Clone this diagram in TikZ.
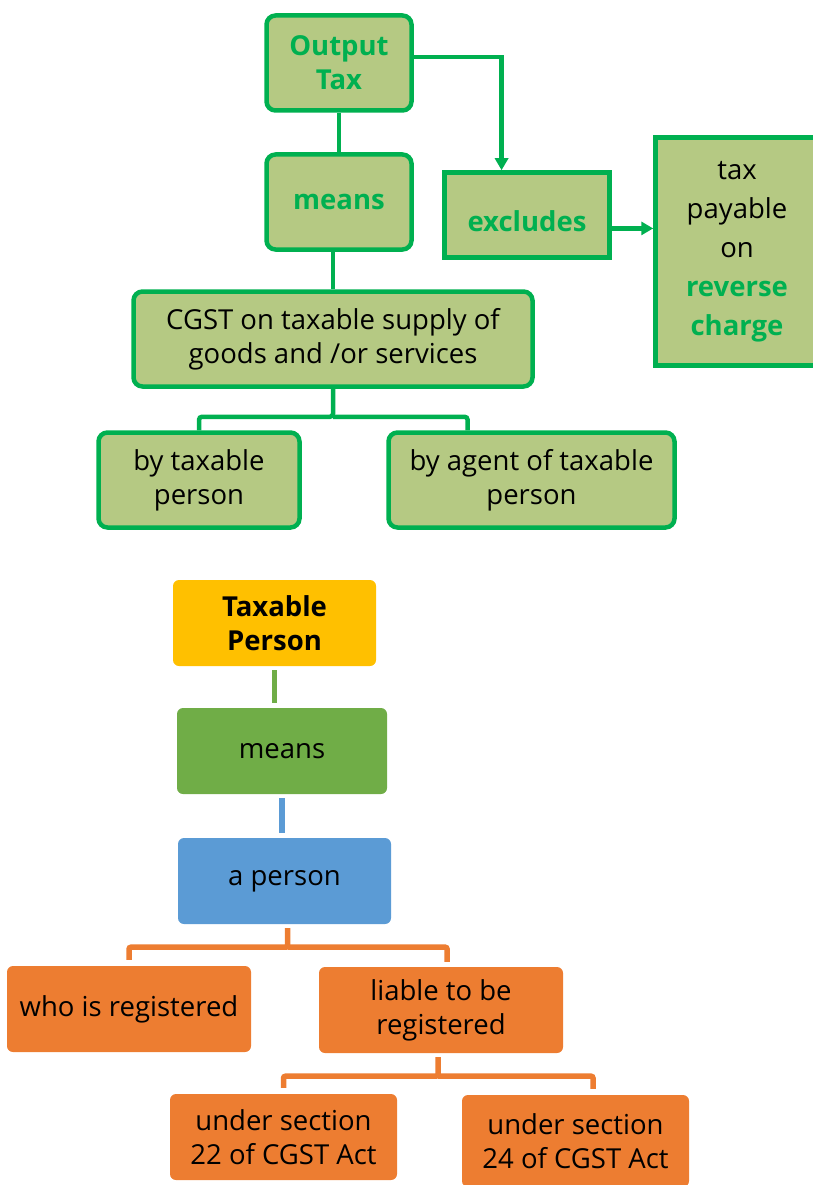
\documentclass[tikz,border=0pt]{standalone}
\usepackage{fontspec}
\setmainfont{Open Sans}
\usetikzlibrary{arrows.meta,calc}

\definecolor{gline}{RGB}{0,176,80}
\definecolor{gfill}{RGB}{181,201,131}
\definecolor{tpyellow}{RGB}{255,192,0}
\definecolor{tpgreen}{RGB}{112,173,71}
\definecolor{tpblue}{RGB}{91,155,213}
\definecolor{tporange}{RGB}{237,125,49}

\newcommand{\boxfont}{\fontsize{27.5}{34}\selectfont}
\newcommand{\hlgreen}[1]{\textbf{\textcolor{gline}{#1}}}

\tikzset{
  gbox/.style={draw=gline,line width=4.5pt,fill=gfill,rounded corners=9pt,
    align=center,inner sep=0pt,font=\boxfont},
  cbox/.style={fill=#1,rounded corners=6pt,align=center,inner sep=0pt,font=\boxfont},
  gconn/.style={draw=gline,line width=4.5pt},
  cconn/.style={draw=#1,line width=5.5pt},
}

\begin{document}
\begin{tikzpicture}[>={Triangle[length=12pt,width=13pt]},x=1pt,y=-1pt]
      \useasboundingbox (0,0) rectangle (813,1185);
      % output tax part
      \node[gbox,minimum width=145pt,minimum height=95pt] (outtax) at (339,63) {\hlgreen{Output}\\\hlgreen{Tax}};
      \node[gbox,minimum width=145pt,minimum height=95pt] (means) at (339,202) {\hlgreen{means}};
      \node[gbox,sharp corners,minimum width=165pt,minimum height=85pt,text height=33pt] (excl) at (527,215) {\hlgreen{excludes}};
      \node[gbox,sharp corners,minimum width=163pt,minimum height=228pt,
        font=\fontsize{27.5}{39}\selectfont] (rcm) at (737,251.5) {tax\\payable\\on\\\hlgreen{reverse}\\\hlgreen{charge}};
      \node[gbox,minimum width=399pt,minimum height=95pt] (cgst) at (333,339) {CGST on taxable supply of\\goods and /or services};
      \node[gbox,minimum width=201pt,minimum height=95pt] (bytp) at (199,480) {by taxable\\person};
      \node[gbox,minimum width=286pt,minimum height=95pt] (byagent) at (531.5,480) {by agent of taxable\\person};
      \coordinate (outtaxr) at ($(outtax.north east)!0.44!(outtax.south east)$);
      \coordinate (exclin) at ($(excl.north west)!0.35!(excl.north east)$);
      \coordinate (exclr) at ($(excl.north east)!0.65!(excl.south east)$);
      \coordinate (cgstfork) at ($(cgst.south)+(0,28)$);
      \coordinate (agentin) at ($(byagent.north west)!0.28!(byagent.north east)$);
      \draw[gconn] (outtax) -- (means);
      \draw[gconn,->] (outtaxr) -| (exclin);
      \draw[gconn,->] (exclr) -- (rcm.west |- exclr);
      \draw[gconn] (means.south -| cgst.north) -- (cgst.north);
      \draw[gconn,rounded corners=3pt] (cgst.south) -- (cgstfork) -| (bytp.north);
      \draw[gconn,rounded corners=3pt] (cgstfork) -| (agentin);
      % taxable person part
      \node[cbox=tpyellow,minimum width=203pt,minimum height=86pt,font=\boxfont\bfseries] (tp) at (274.5,623) {Taxable\\Person};
      \node[cbox=tpgreen,minimum width=210pt,minimum height=86pt] (tpmeans) at (282,751) {means};
      \node[cbox=tpblue,minimum width=213pt,minimum height=86pt] (aperson) at (284.5,881) {a person};
      \node[cbox=tporange,minimum width=244pt,minimum height=86pt] (regd) at (129,1009) {who is registered};
      \node[cbox=tporange,minimum width=244pt,minimum height=86pt] (liable) at (441,1010) {liable to be\\registered};
      \node[cbox=tporange,minimum width=227pt,minimum height=86pt] (sec22) at (283.5,1137) {under section\\22 of CGST Act};
      \node[cbox=tporange,minimum width=227pt,minimum height=92pt] (sec24) at (575.5,1141) {under section\\24 of CGST Act};
      \coordinate (persout) at ($(aperson.south west)!0.515!(aperson.south east)$);
      \coordinate (persfork) at ($(persout)+(0,23)$);
      \coordinate (liablein) at ($(liable.north west)!0.525!(liable.north east)$);
      \coordinate (liableout) at ($(liable.south west)!0.488!(liable.south east)$);
      \coordinate (liablefork) at ($(liableout)+(0,23)$);
      \coordinate (sec24in) at ($(sec24.north west)!0.577!(sec24.north east)$);
      \draw[cconn=tpgreen,shorten <=4pt,shorten >=5pt] (tp.south) -- (tp.south |- tpmeans.north);
      \draw[cconn=tpblue,shorten <=4pt,shorten >=5pt] (tpmeans.south) -- (tpmeans.south |- aperson.north);
      \draw[cconn=tporange,shorten <=4pt,shorten >=6pt,rounded corners=2pt] (persout) -- (persfork) -| (regd.north);
      \draw[cconn=tporange,shorten >=5pt,rounded corners=2pt] (persfork) -| (liablein);
      \draw[cconn=tporange,shorten <=4pt,shorten >=6pt,rounded corners=2pt] (liableout) -- (liablefork) -| (sec22.north);
      \draw[cconn=tporange,shorten >=6pt,rounded corners=2pt] (liablefork) -| (sec24in);
\end{tikzpicture}
\end{document}
